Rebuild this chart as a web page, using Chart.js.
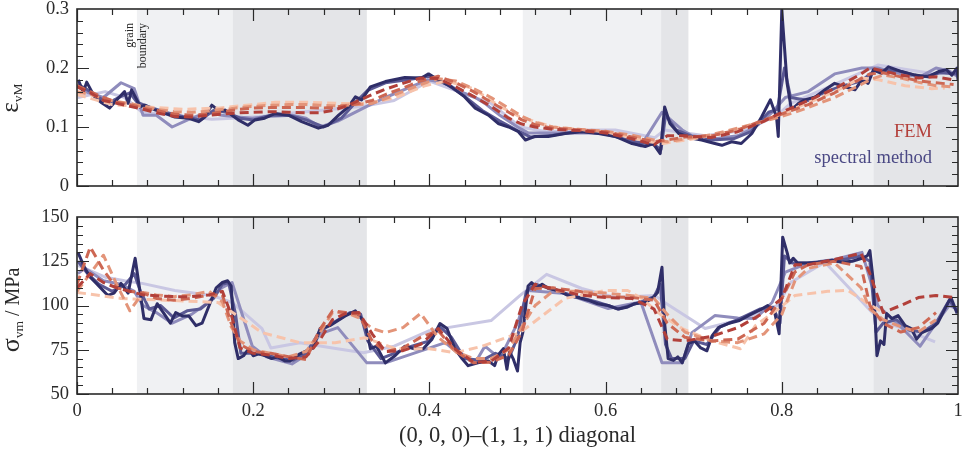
<!DOCTYPE html>
<html>
<head>
<meta charset="utf-8">
<script src="https://cdn.jsdelivr.net/npm/chart.js@4.4.1/dist/chart.umd.min.js"></script>
<style>
  html, body { margin: 0; padding: 0; background: #fff; }
  .panel { position: absolute; left: 0; width: 964px; }
  #strainBox { top: 0; height: 200px; }
  #stressBox { top: 200px; height: 253px; }
</style>
</head>
<body>
<div class="panel" id="strainBox"><canvas id="strainChart"></canvas></div>
<div class="panel" id="stressBox"><canvas id="stressChart"></canvas></div>
<script>
(() => {
  'use strict'

  // grains crossed by the diagonal (0 = light, 1 = dark shading)
  const grainFrom = [0.068, 0.177, 0.506, 0.663, 0.799, 0.904]
  const grainTo = [0.177, 0.329, 0.663, 0.694, 0.904, 1]
  const grainTone = [0, 1, 0, 1, 0, 1]

  const xTicks = [0, 0.2, 0.4, 0.6, 0.8, 1]
  const strainTicks = [0, 0.1, 0.2, 0.3]
  const stressTicks = [50, 75, 100, 125, 150]

  // spectral method, coarse -> fine
  const spec1X = [0.001, 0.032, 0.054, 0.074, 0.111, 0.153, 0.176, 0.21, 0.22, 0.253, 0.29, 0.325, 0.36, 0.4, 0.47, 0.503, 0.533, 0.573, 0.611, 0.656, 0.667, 0.713, 0.76, 0.795, 0.81, 0.849, 0.909, 0.974]
  const spec1Strain = [0.15, 0.16, 0.15, 0.125, 0.12, 0.113, 0.115, 0.118, 0.12, 0.125, 0.13, 0.135, 0.145, 0.178, 0.14, 0.1, 0.092, 0.095, 0.095, 0.082, 0.095, 0.085, 0.095, 0.12, 0.14, 0.165, 0.205, 0.19]
  const spec1Stress = [122.7, 116, 114, 112.5, 108.5, 105.7, 101.7, 87, 76, 79, 76, 73.3, 77, 85.8, 91.5, 105.7, 117.6, 109.6, 104.5, 105.7, 101.7, 87, 93, 100, 113, 124.4, 92.6, 79.5]

  const spec2X = [0.001, 0.009, 0.03, 0.05, 0.065, 0.075, 0.09, 0.108, 0.13, 0.149, 0.164, 0.176, 0.199, 0.215, 0.244, 0.26, 0.276, 0.296, 0.329, 0.35, 0.398, 0.418, 0.435, 0.452, 0.463, 0.48, 0.5, 0.512, 0.554, 0.603, 0.64, 0.664, 0.687, 0.698, 0.724, 0.75, 0.77, 0.789, 0.804, 0.83, 0.86, 0.891, 0.909, 0.935, 0.957, 0.975, 0.99, 1]
  const spec2Strain = [0.17, 0.16, 0.15, 0.175, 0.165, 0.12, 0.12, 0.1, 0.115, 0.125, 0.12, 0.118, 0.115, 0.118, 0.12, 0.115, 0.1, 0.11, 0.135, 0.15, 0.18, 0.175, 0.16, 0.15, 0.14, 0.12, 0.1, 0.09, 0.09, 0.09, 0.068, 0.125, 0.095, 0.085, 0.08, 0.085, 0.1, 0.125, 0.15, 0.16, 0.19, 0.2, 0.2, 0.19, 0.185, 0.2, 0.195, 0.185]
  const spec2Stress = [118, 121, 114, 112, 108, 100, 96, 90, 95, 101.7, 110, 113, 77, 71, 67, 72, 84, 87.5, 67.6, 67.6, 75.6, 79, 72, 67.6, 77, 70, 90, 108.5, 106.8, 98.3, 102, 67.6, 67.6, 84.7, 94.3, 93, 92.6, 101.7, 118.8, 124, 126, 130, 100, 88, 77, 90, 100, 98]

  const spec3Strain = [[0.001, 0.172], [0.01, 0.165], [0.02, 0.155], [0.035, 0.14], [0.05, 0.152], [0.06, 0.158], [0.068, 0.142], [0.08, 0.135], [0.1, 0.125], [0.12, 0.118], [0.14, 0.112], [0.155, 0.128], [0.17, 0.125], [0.185, 0.115], [0.2, 0.112], [0.22, 0.12], [0.24, 0.12], [0.26, 0.112], [0.28, 0.1], [0.3, 0.115], [0.315, 0.14], [0.33, 0.162], [0.35, 0.175], [0.375, 0.18], [0.4, 0.186], [0.42, 0.172], [0.44, 0.152], [0.46, 0.128], [0.48, 0.11], [0.5, 0.094], [0.515, 0.083], [0.54, 0.086], [0.57, 0.093], [0.6, 0.088], [0.63, 0.076], [0.655, 0.07], [0.663, 0.062], [0.668, 0.12], [0.68, 0.095], [0.7, 0.083], [0.72, 0.078], [0.745, 0.08], [0.765, 0.092], [0.785, 0.125], [0.795, 0.13], [0.803, 0.2], [0.81, 0.15], [0.83, 0.145], [0.85, 0.16], [0.87, 0.17], [0.89, 0.178], [0.905, 0.195], [0.93, 0.196], [0.96, 0.185], [0.98, 0.192], [1, 0.19]]
  const spec3Stress = [[0.001, 125], [0.012, 118], [0.025, 112], [0.04, 108], [0.055, 112], [0.065, 118], [0.072, 108], [0.082, 98], [0.095, 100], [0.11, 93], [0.125, 97], [0.14, 98], [0.155, 104], [0.165, 112], [0.172, 113], [0.18, 95], [0.186, 73], [0.2, 73], [0.215, 72], [0.23, 70], [0.245, 69], [0.26, 73], [0.275, 85], [0.29, 90], [0.31, 96], [0.322, 95], [0.33, 80], [0.345, 70], [0.36, 73], [0.38, 77], [0.4, 80], [0.412, 88], [0.425, 82], [0.44, 70], [0.46, 69], [0.475, 73], [0.49, 70], [0.5, 82], [0.51, 108], [0.52, 112], [0.535, 110], [0.56, 106], [0.59, 102], [0.615, 98], [0.64, 102], [0.655, 105], [0.662, 112], [0.668, 78], [0.675, 70], [0.69, 70], [0.7, 80], [0.715, 78], [0.73, 88], [0.75, 92], [0.775, 98], [0.79, 99], [0.798, 90], [0.803, 128], [0.812, 124], [0.83, 124], [0.86, 125], [0.89, 128], [0.9, 125], [0.907, 85], [0.915, 90], [0.93, 92], [0.945, 86], [0.96, 85], [0.975, 90], [0.99, 103], [1, 96]]

  const spec4Strain = [[0.0015, 0.18], [0.007, 0.159], [0.011, 0.176], [0.02, 0.151], [0.028, 0.141], [0.037, 0.132], [0.047, 0.149], [0.054, 0.16], [0.058, 0.14], [0.062, 0.163], [0.068, 0.146], [0.0715, 0.134], [0.077, 0.137], [0.0885, 0.129], [0.1, 0.123], [0.111, 0.117], [0.126, 0.115], [0.138, 0.109], [0.145, 0.117], [0.153, 0.137], [0.16, 0.129], [0.168, 0.129], [0.176, 0.12], [0.183, 0.112], [0.194, 0.103], [0.202, 0.112], [0.213, 0.115], [0.225, 0.123], [0.24, 0.12], [0.255, 0.109], [0.274, 0.098], [0.285, 0.103], [0.297, 0.12], [0.308, 0.134], [0.316, 0.151], [0.323, 0.146], [0.333, 0.168], [0.35, 0.177], [0.372, 0.184], [0.391, 0.183], [0.399, 0.19], [0.41, 0.18], [0.425, 0.168], [0.44, 0.151], [0.452, 0.132], [0.467, 0.12], [0.478, 0.106], [0.49, 0.1], [0.501, 0.092], [0.509, 0.078], [0.52, 0.084], [0.535, 0.084], [0.554, 0.089], [0.573, 0.092], [0.592, 0.089], [0.611, 0.084], [0.63, 0.072], [0.645, 0.067], [0.654, 0.072], [0.662, 0.055], [0.667, 0.134], [0.673, 0.106], [0.683, 0.089], [0.698, 0.081], [0.709, 0.078], [0.724, 0.072], [0.732, 0.069], [0.743, 0.075], [0.754, 0.072], [0.766, 0.089], [0.777, 0.117], [0.787, 0.146], [0.794, 0.117], [0.796, 0.084], [0.8, 0.298], [0.806, 0.174], [0.811, 0.129], [0.819, 0.14], [0.826, 0.146], [0.838, 0.151], [0.849, 0.163], [0.86, 0.174], [0.872, 0.168], [0.883, 0.163], [0.891, 0.18], [0.898, 0.174], [0.904, 0.197], [0.913, 0.191], [0.921, 0.202], [0.936, 0.194], [0.951, 0.188], [0.966, 0.185], [0.978, 0.194], [0.987, 0.197], [0.993, 0.188], [0.999, 0.2], [1, 0.18]]
  const spec4Stress = [[0.001, 130], [0.009, 121], [0.015, 116], [0.022, 112.5], [0.035, 105.7], [0.042, 107], [0.05, 112.5], [0.058, 107], [0.066, 126.7], [0.07, 113], [0.076, 92.6], [0.084, 92], [0.091, 101], [0.098, 96], [0.106, 90], [0.112, 96], [0.12, 94], [0.127, 94], [0.135, 88.6], [0.142, 90], [0.15, 100], [0.158, 110], [0.165, 113], [0.171, 114], [0.175, 111], [0.179, 79], [0.183, 70], [0.189, 71.6], [0.195, 75.6], [0.2, 71.6], [0.206, 72.7], [0.214, 71.6], [0.221, 70], [0.228, 71], [0.236, 68.7], [0.242, 68.7], [0.253, 72.7], [0.268, 76], [0.276, 87], [0.287, 88.6], [0.304, 94], [0.316, 97], [0.327, 90], [0.333, 75.6], [0.34, 77], [0.35, 67.6], [0.361, 71.6], [0.372, 77], [0.383, 75.6], [0.393, 75.6], [0.403, 81], [0.412, 89.8], [0.42, 87], [0.429, 75.6], [0.437, 70], [0.444, 66], [0.455, 67.6], [0.467, 68.7], [0.474, 66], [0.478, 72], [0.484, 75.6], [0.488, 64], [0.491, 74], [0.495, 70], [0.5, 63], [0.503, 79], [0.506, 84.7], [0.512, 111], [0.516, 113], [0.522, 110], [0.528, 112], [0.535, 109.6], [0.546, 108.5], [0.557, 105.7], [0.569, 104.5], [0.58, 103], [0.591, 101], [0.603, 100], [0.614, 98], [0.624, 99], [0.633, 101], [0.645, 101.7], [0.653, 104], [0.659, 107.4], [0.664, 121.6], [0.667, 90], [0.671, 70], [0.677, 69], [0.682, 71], [0.687, 67.6], [0.694, 78.4], [0.701, 80], [0.708, 76], [0.715, 74.4], [0.721, 83], [0.728, 87.5], [0.739, 89.8], [0.752, 91.5], [0.762, 94.3], [0.777, 98], [0.784, 100], [0.792, 96], [0.797, 84], [0.801, 138.6], [0.806, 130], [0.809, 124], [0.813, 126.7], [0.818, 124], [0.83, 124], [0.841, 124.4], [0.857, 125.6], [0.868, 124.4], [0.88, 125], [0.891, 126.7], [0.897, 128], [0.9, 131], [0.904, 113], [0.908, 71.6], [0.912, 80], [0.916, 78], [0.919, 95.5], [0.925, 92.6], [0.932, 94.3], [0.94, 88.6], [0.947, 87], [0.953, 81], [0.959, 84.7], [0.965, 86], [0.97, 87], [0.977, 90], [0.985, 98], [0.992, 104.5], [0.999, 95.5]]

  // FEM, coarse -> fine
  const fem1Strain = [[0, 0.155], [0.04, 0.138], [0.08, 0.134], [0.12, 0.13], [0.16, 0.132], [0.2, 0.138], [0.225, 0.142], [0.26, 0.142], [0.3, 0.14], [0.33, 0.14], [0.36, 0.149], [0.395, 0.17], [0.42, 0.178], [0.45, 0.165], [0.48, 0.135], [0.503, 0.117], [0.54, 0.1], [0.6, 0.092], [0.65, 0.075], [0.665, 0.072], [0.7, 0.08], [0.74, 0.092], [0.78, 0.11], [0.82, 0.135], [0.86, 0.16], [0.89, 0.183], [0.91, 0.18], [0.94, 0.17], [0.97, 0.165], [0.985, 0.166]]
  const fem1Stress = [[0, 107.4], [0.05, 104], [0.1, 103], [0.16, 101.7], [0.21, 84.7], [0.253, 79], [0.293, 79], [0.327, 81.8], [0.361, 75.6], [0.4, 75.6], [0.429, 73.3], [0.46, 77], [0.503, 84.7], [0.554, 104], [0.6, 108.5], [0.625, 108.5], [0.641, 104], [0.664, 94.3], [0.687, 87], [0.72, 80], [0.753, 75.6], [0.77, 88.6], [0.796, 98], [0.815, 105.7], [0.852, 108], [0.875, 108.5], [0.898, 101], [0.915, 96]]

  const femX = [0, 0.015, 0.03, 0.045, 0.06, 0.075, 0.09, 0.11, 0.13, 0.15, 0.165, 0.175, 0.185, 0.2, 0.22, 0.24, 0.26, 0.275, 0.29, 0.305, 0.32, 0.335, 0.35, 0.37, 0.39, 0.41, 0.43, 0.45, 0.47, 0.49, 0.505, 0.52, 0.54, 0.57, 0.6, 0.63, 0.655, 0.67, 0.69, 0.72, 0.75, 0.78, 0.8, 0.815, 0.83, 0.86, 0.89, 0.9, 0.915, 0.935, 0.955, 0.975, 0.995]
  const fem2Strain = [0.16, 0.155, 0.148, 0.143, 0.14, 0.135, 0.13, 0.126, 0.125, 0.127, 0.13, 0.131, 0.133, 0.135, 0.137, 0.138, 0.138, 0.137, 0.136, 0.137, 0.138, 0.14, 0.148, 0.16, 0.172, 0.182, 0.178, 0.165, 0.15, 0.132, 0.118, 0.108, 0.1, 0.096, 0.093, 0.086, 0.078, 0.075, 0.08, 0.087, 0.098, 0.11, 0.118, 0.125, 0.133, 0.15, 0.172, 0.18, 0.188, 0.183, 0.176, 0.17, 0.168]
  const fem2Stress = [108, 118, 128.4, 112, 97, 107.4, 106, 105, 106, 108, 102, 88, 80, 75, 73, 71, 74, 84, 96, 96, 93, 87, 84.7, 87.5, 95.5, 82, 74, 70, 70, 75, 88, 100, 108, 108, 107, 105.5, 104, 95, 85, 80, 79, 84, 95, 114, 121, 124, 110, 98, 92, 88, 85, 92, null]
  const fem3Strain = [0.17, 0.16, 0.15, 0.142, 0.138, 0.132, 0.128, 0.122, 0.12, 0.122, 0.126, 0.128, 0.13, 0.132, 0.133, 0.133, 0.133, 0.132, 0.133, 0.136, 0.14, 0.145, 0.155, 0.166, 0.178, 0.186, 0.175, 0.16, 0.142, 0.125, 0.112, 0.104, 0.098, 0.095, 0.092, 0.083, 0.075, 0.078, 0.083, 0.085, 0.095, 0.112, 0.122, 0.13, 0.138, 0.158, 0.182, 0.19, 0.192, 0.185, 0.178, 0.175, 0.172]
  const fem3Stress = [112, 133, 120, 110, 108, 107, 104, 103, 104, 106, 106, 90, 78, 74, 73, 71, 69.5, 86, 97, 96, 95, 80, 74, 76, 82, 85.8, 74, 67.6, 68, 72, 85, 109.6, 110, 108, 105, 104.5, 103, 90, 82, 80, 81, 90, 104, 119, 123, 125, 122, 100, 90, 85, 87.5, 96, null]
  const fem4Strain = [0.168, 0.158, 0.145, 0.14, 0.135, 0.13, 0.124, 0.118, 0.117, 0.12, 0.122, 0.123, 0.124, 0.125, 0.126, 0.125, 0.124, 0.124, 0.128, 0.135, 0.145, 0.155, 0.164, 0.174, 0.183, 0.182, 0.168, 0.152, 0.135, 0.115, 0.105, 0.1, 0.096, 0.094, 0.09, 0.08, 0.07, 0.085, 0.085, 0.082, 0.092, 0.11, 0.125, 0.135, 0.145, 0.165, 0.19, 0.2, 0.195, 0.188, 0.183, 0.185, 0.18]
  const fem4Stress = [110, 118, 113, 110, 108, 106, 105.5, 105, 105, 106, 108, 95, 76, 73, 72, 70, 71, 80, 92, 95.5, 96, 84, 74, 74.5, 78, 87, 75, 68, 68.5, 76, 100, 112, 109.5, 106, 104.5, 104, 98, 81, 80, 82.5, 87.5, 96, 104, 123, 123, 126, 129.5, 118, 96, 100, 104.5, 105.7, 104.5]

  const FONT = '"Liberation Serif", "Times New Roman", serif'
  const INK = '#2a2a2a'
  const shades = ['#f0f1f3', '#e4e5e8']
  const specColors = ['#c9c7e3', '#8f8cbc', '#5b5994', '#2f2e68']
  const femColors = ['#f7c3ab', '#e39479', '#cd6753', '#b2403a']

  const zip = (xs, ys) => xs.map((x, i) => ({ x, y: ys[i] }))
  const fromPairs = list => list.map(([x, y]) => ({ x, y }))

  function lineSet(data, color, dashed) {
    return {
      data,
      borderColor: color,
      backgroundColor: color,
      borderWidth: 3,
      borderDash: dashed ? [9, 5] : [],
      borderJoinStyle: 'round',
      pointRadius: 0,
      tension: 0,
      fill: false
    }
  }

  // first dataset is drawn on top
  function buildSets(spec, fem) {
    const sets = []
    for (let i = 3; i >= 0; i--) sets.push(lineSet(fem[i], femColors[i], true))
    for (let i = 3; i >= 0; i--) sets.push(lineSet(spec[i], specColors[i], false))
    return sets
  }

  function drawShading(chart) {
    const { ctx, chartArea: a, scales: { x } } = chart
    ctx.save()
    grainFrom.forEach((from, i) => {
      const x0 = x.getPixelForValue(from)
      const x1 = x.getPixelForValue(grainTo[i])
      ctx.fillStyle = shades[grainTone[i]]
      ctx.fillRect(x0, a.top, x1 - x0, a.bottom - a.top)
    })
    ctx.restore()
  }

  function drawFrame(chart, yTicks) {
    const { ctx, chartArea: a, scales: { x, y } } = chart
    ctx.save()
    ctx.strokeStyle = INK
    ctx.lineWidth = 1.2
    ctx.beginPath()
    for (let i = 0; i < xTicks.length - 1; i++) {
      for (let k = 0; k < 5; k++) {
        const v = xTicks[i] + (xTicks[i + 1] - xTicks[i]) * k / 5
        const px = Math.round(x.getPixelForValue(v)) + 0.5
        const len = k === 0 ? 12 : 6
        ctx.moveTo(px, a.bottom); ctx.lineTo(px, a.bottom - len)
        ctx.moveTo(px, a.top); ctx.lineTo(px, a.top + len)
      }
    }
    for (let i = 0; i < yTicks.length - 1; i++) {
      for (let k = 0; k < 5; k++) {
        const v = yTicks[i] + (yTicks[i + 1] - yTicks[i]) * k / 5
        const py = Math.round(y.getPixelForValue(v)) + 0.5
        const len = k === 0 ? 12 : 6
        ctx.moveTo(a.left, py); ctx.lineTo(a.left + len, py)
        ctx.moveTo(a.right, py); ctx.lineTo(a.right - len, py)
      }
    }
    ctx.stroke()
    ctx.lineWidth = 1.6
    ctx.strokeRect(a.left, a.top, a.right - a.left, a.bottom - a.top)
    ctx.restore()
  }

  // rotated axis title made of pieces, some of them subscripts
  function drawYTitle(ctx, cx, cy, parts) {
    ctx.save()
    ctx.translate(cx, cy)
    ctx.rotate(-Math.PI / 2)
    ctx.fillStyle = INK
    ctx.textBaseline = 'alphabetic'
    ctx.textAlign = 'left'
    let total = 0
    parts.forEach(p => {
      ctx.font = p.size + 'px ' + FONT
      p.w = ctx.measureText(p.text).width
      total += p.w
    })
    let pos = -total / 2
    parts.forEach(p => {
      ctx.font = p.size + 'px ' + FONT
      ctx.fillText(p.text, pos, p.shift)
      pos += p.w
    })
    ctx.restore()
  }

  function scaleX(display) {
    return {
      type: 'linear',
      display,
      min: 0,
      max: 1,
      afterBuildTicks: s => { s.ticks = xTicks.map(value => ({ value })) },
      grid: { display: false, drawTicks: false },
      border: { display: false },
      ticks: {
        color: INK,
        padding: 6,
        maxRotation: 0,
        font: { family: FONT, size: 18.5 },
        callback: v => String(v)
      },
      title: {
        display: display,
        text: '(0, 0, 0)\u2013(1, 1, 1) diagonal',
        color: INK,
        font: { family: FONT, size: 22.5 },
        padding: { top: 0, bottom: 3 }
      },
      afterFit: s => {
        if (display) s.height = 59
        s.paddingLeft = 0
        s.paddingRight = 0
      }
    }
  }

  function scaleY(min, max, ticks) {
    return {
      type: 'linear',
      min,
      max,
      afterBuildTicks: s => { s.ticks = ticks.map(value => ({ value })) },
      grid: { display: false, drawTicks: false },
      border: { display: false },
      ticks: {
        color: INK,
        padding: 8,
        font: { family: FONT, size: 18.5, lineHeight: 1 },
        callback: v => String(v)
      },
      afterFit: s => {
        s.width = 77
        s.paddingTop = 0
        s.paddingBottom = 0
      }
    }
  }

  function baseOptions(padding, x, y) {
    return {
      responsive: true,
      maintainAspectRatio: false,
      animation: false,
      layout: { padding },
      plugins: { legend: { display: false }, tooltip: { enabled: false } },
      scales: { x, y }
    }
  }

  // strain panel
  const strainSets = buildSets(
    [zip(spec1X, spec1Strain), zip(spec2X, spec2Strain), fromPairs(spec3Strain), fromPairs(spec4Strain)],
    [fromPairs(fem1Strain), zip(femX, fem2Strain), zip(femX, fem3Strain), zip(femX, fem4Strain)]
  )

  // eslint-disable-next-line no-unused-vars
  const strainChart = new Chart(document.getElementById('strainChart'), {
    type: 'line',
    data: { datasets: strainSets },
    options: baseOptions({ left: 0, right: 6, top: 9, bottom: 14 }, scaleX(false), scaleY(0, 0.3, strainTicks)),
    plugins: [{
      id: 'strainDecor',
      beforeDatasetsDraw: drawShading,
      afterDatasetsDraw: c => drawFrame(c, strainTicks),
      afterDraw: c => {
        const ctx = c.ctx
        drawYTitle(ctx, 15, 98, [
          { text: '\u03b5', size: 25, shift: 3 },
          { text: 'vM', size: 13.5, shift: 7 }
        ])
        // grain boundary note
        ctx.save()
        ctx.fillStyle = INK
        ctx.font = '12px ' + FONT
        ctx.textAlign = 'right'
        ctx.textBaseline = 'middle'
        ;[['grain', 130], ['boundary', 143]].forEach(([t, px]) => {
          ctx.save()
          ctx.translate(px, 23)
          ctx.rotate(-Math.PI / 2)
          ctx.fillText(t, 0, 0)
          ctx.restore()
        })
        ctx.restore()
        // legend
        ctx.save()
        ctx.textAlign = 'right'
        ctx.textBaseline = 'alphabetic'
        ctx.font = '18.5px ' + FONT
        ctx.fillStyle = '#b3403b'
        ctx.fillText('FEM', 932, 137)
        ctx.fillStyle = '#4a4884'
        ctx.fillText('spectral method', 932, 163)
        ctx.restore()
      }
    }]
  })

  // stress panel
  const stressSets = buildSets(
    [zip(spec1X, spec1Stress), zip(spec2X, spec2Stress), fromPairs(spec3Stress), fromPairs(spec4Stress)],
    [fromPairs(fem1Stress), zip(femX, fem2Stress), zip(femX, fem3Stress), zip(femX, fem4Stress)]
  )

  // eslint-disable-next-line no-unused-vars
  const stressChart = new Chart(document.getElementById('stressChart'), {
    type: 'line',
    data: { datasets: stressSets },
    options: baseOptions({ left: 0, right: 6, top: 17, bottom: 0 }, scaleX(true), scaleY(50, 150, stressTicks)),
    plugins: [{
      id: 'stressDecor',
      beforeDatasetsDraw: drawShading,
      afterDatasetsDraw: c => drawFrame(c, stressTicks),
      afterDraw: c => {
        drawYTitle(c.ctx, 15, 110, [
          { text: '\u03c3', size: 26, shift: 4 },
          { text: 'vm', size: 13.5, shift: 8 },
          { text: ' / MPa', size: 20, shift: 4 }
        ])
      }
    }]
  })
})()
</script>
</body>
</html>
